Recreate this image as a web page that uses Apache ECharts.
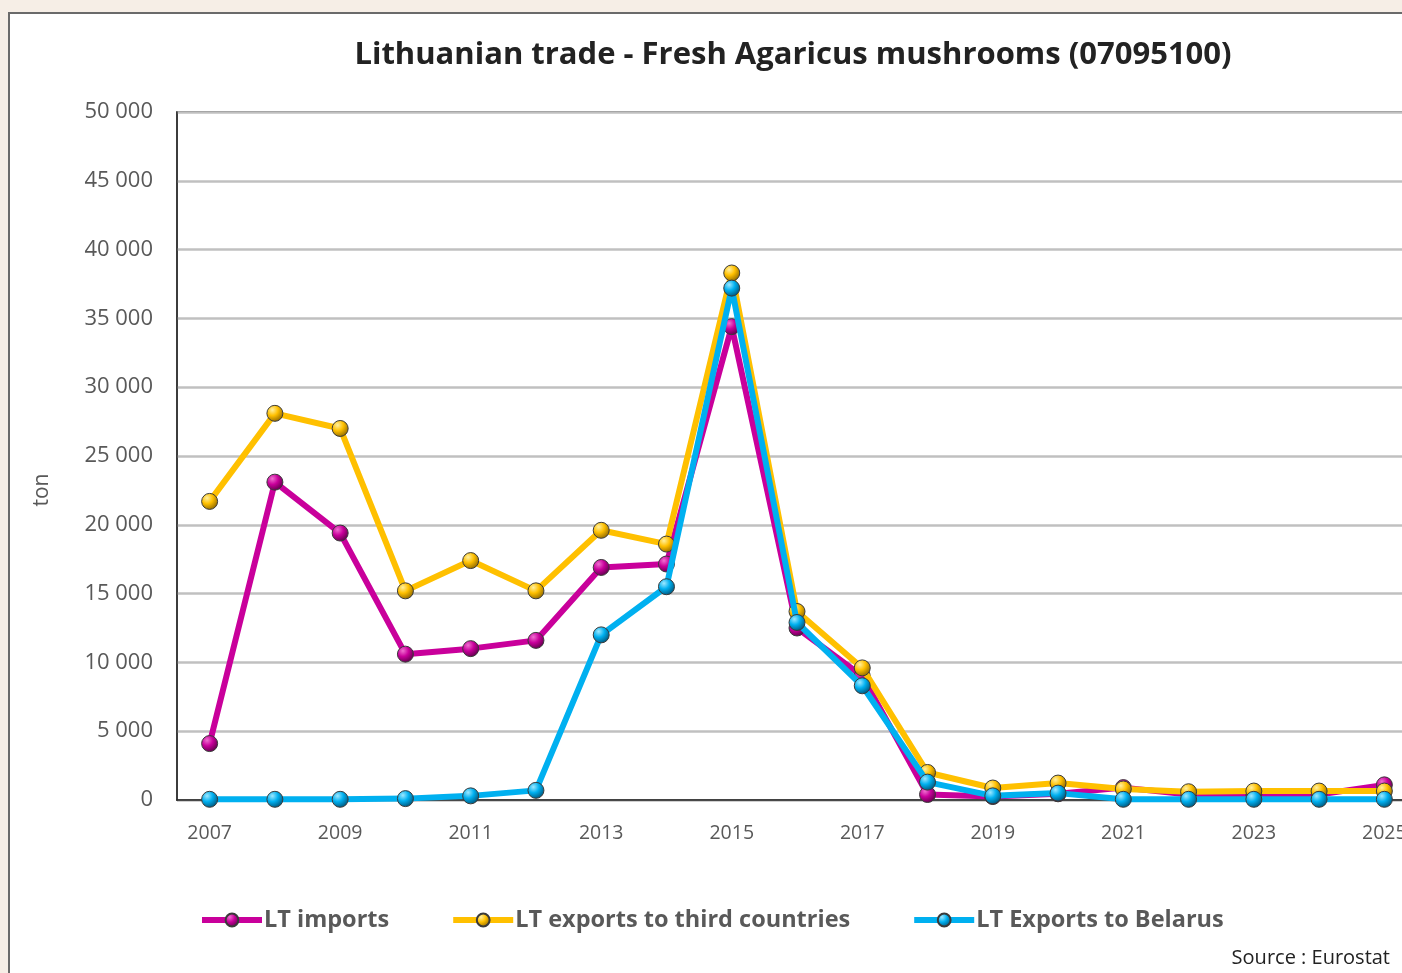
<!DOCTYPE html>
<html lang="en">
<head>
    <meta charset="utf-8">
    <title>Lithuanian trade - Fresh Agaricus mushrooms</title>
    <style>
        html, body { margin: 0; padding: 0; overflow: hidden; }
        body { width: 1402px; height: 973px; background: #f6eee6; position: relative; }
        #frame {
            position: absolute; left: 8px; top: 12px;
            width: 1500px; height: 1000px;
            border: 2px solid #6a6a6a; background: #fff;
        }
        #lt-chart { width: 1500px; height: 1000px; }
    </style>
</head>
<body>
<div id="frame"><div id="lt-chart"></div></div>

<script src="https://cdn.jsdelivr.net/npm/echarts@6/dist/echarts.min.js"></script>
<script type="text/javascript">
    // data (ton)
    var years = ['2007', '2008', '2009', '2010', '2011', '2012', '2013', '2014', '2015', '2016',
        '2017', '2018', '2019', '2020', '2021', '2022', '2023', '2024', '2025'];
    var ltImports = [4100, 23100, 19400, 10600, 11000, 11600, 16900, 17150, 34400, 12500,
        9000, 400, 250, 450, 900, 400, 400, 400, 1100];
    var ltExportsThird = [21700, 28100, 27000, 15200, 17400, 15200, 19600, 18600, 38300, 13700,
        9600, 2000, 870, 1230, 800, 600, 650, 650, 650];
    var ltExportsBelarus = [50, 50, 50, 100, 300, 700, 12000, 15500, 37200, 12900,
        8300, 1300, 300, 500, 50, 50, 50, 50, 50];
    var seriesNames = ['LT imports', 'LT exports to third countries', 'LT Exports to Belarus'];
    var seriesColors = ['#c9009b', '#ffc000', '#00b0f0'];
    var highlightColors = ['#f070d0', '#fff0a0', '#9fe8ff'];
    var shadeColors = ['#5a0046', '#8a6400', '#004f73'];

    var fontStack = '"Open Sans", "Noto Sans", sans-serif';

    function spaced(v) {
        return String(v).replace(/\B(?=(\d{3})+(?!\d))/g, ' ');
    }

    function ball(i) {
        return {
            type: 'radial', x: 0.35, y: 0.3, r: 0.75,
            colorStops: [
                {offset: 0, color: highlightColors[i]},
                {offset: 0.45, color: seriesColors[i]},
                {offset: 1, color: shadeColors[i]}
            ]
        };
    }

    function lineSeries(i, data) {
        return {
            name: seriesNames[i],
            type: 'line',
            data: data,
            symbol: 'circle',
            symbolSize: 16,
            z: 2 + i,
            lineStyle: {color: seriesColors[i], width: 6},
            itemStyle: {color: ball(i), borderColor: '#3a3a3a', borderWidth: 1},
            emphasis: {disabled: true}
        };
    }

    var myChart = echarts.init(document.getElementById('lt-chart'));

    myChart.setOption({
        animation: false,
        textStyle: {fontFamily: fontStack},
        grid: {
            left: 167, top: 98, width: 1240, height: 688,
            show: true, borderColor: '#222', borderWidth: 1.5, backgroundColor: 'transparent'
        },
        legend: {
            left: 184, top: 889,
            itemWidth: 60, itemHeight: 16, itemGap: 61,
            data: seriesNames,
            lineStyle: {width: 6},
            textStyle: {fontSize: 23.5, fontWeight: 'bold', color: '#595959', padding: [0, 0, 0, -3]}
        },
        xAxis: {
            type: 'category',
            data: years,
            boundaryGap: true,
            axisLine: {lineStyle: {color: '#222', width: 1.5}},
            axisTick: {show: false},
            axisLabel: {interval: 1, fontSize: 19.5, color: '#595959', margin: 23}
        },
        yAxis: {
            type: 'value',
            min: 0, max: 50000, interval: 5000,
            axisLine: {show: true, lineStyle: {color: '#333', width: 1.5}},
            axisTick: {show: false},
            splitLine: {lineStyle: {color: '#c0c0c0', width: 2.5}},
            axisLabel: {fontSize: 22, color: '#595959', margin: 24, formatter: spaced}
        },
        graphic: [
            {
                type: 'text', x: 783, y: 41,
                style: {
                    text: 'Lithuanian trade - Fresh Agaricus mushrooms (07095100)',
                    fontSize: 31, fontWeight: 'bold', fill: '#222',
                    fontFamily: fontStack,
                    textAlign: 'center', textVerticalAlign: 'middle'
                }
            },
            {
                type: 'text', x: 32, y: 476, rotation: Math.PI / 2,
                style: {
                    text: 'ton', fontSize: 21, fill: '#595959', fontFamily: fontStack,
                    textAlign: 'center', textVerticalAlign: 'middle'
                }
            },
            {
                type: 'text', x: 1380, y: 944,
                style: {
                    text: 'Source : Eurostat',
                    fontSize: 20, fill: '#222', fontFamily: fontStack,
                    textAlign: 'right', textVerticalAlign: 'middle'
                }
            }
        ],
        series: [
            lineSeries(0, ltImports),
            lineSeries(1, ltExportsThird),
            lineSeries(2, ltExportsBelarus)
        ]
    });
</script>
</body>
</html>
